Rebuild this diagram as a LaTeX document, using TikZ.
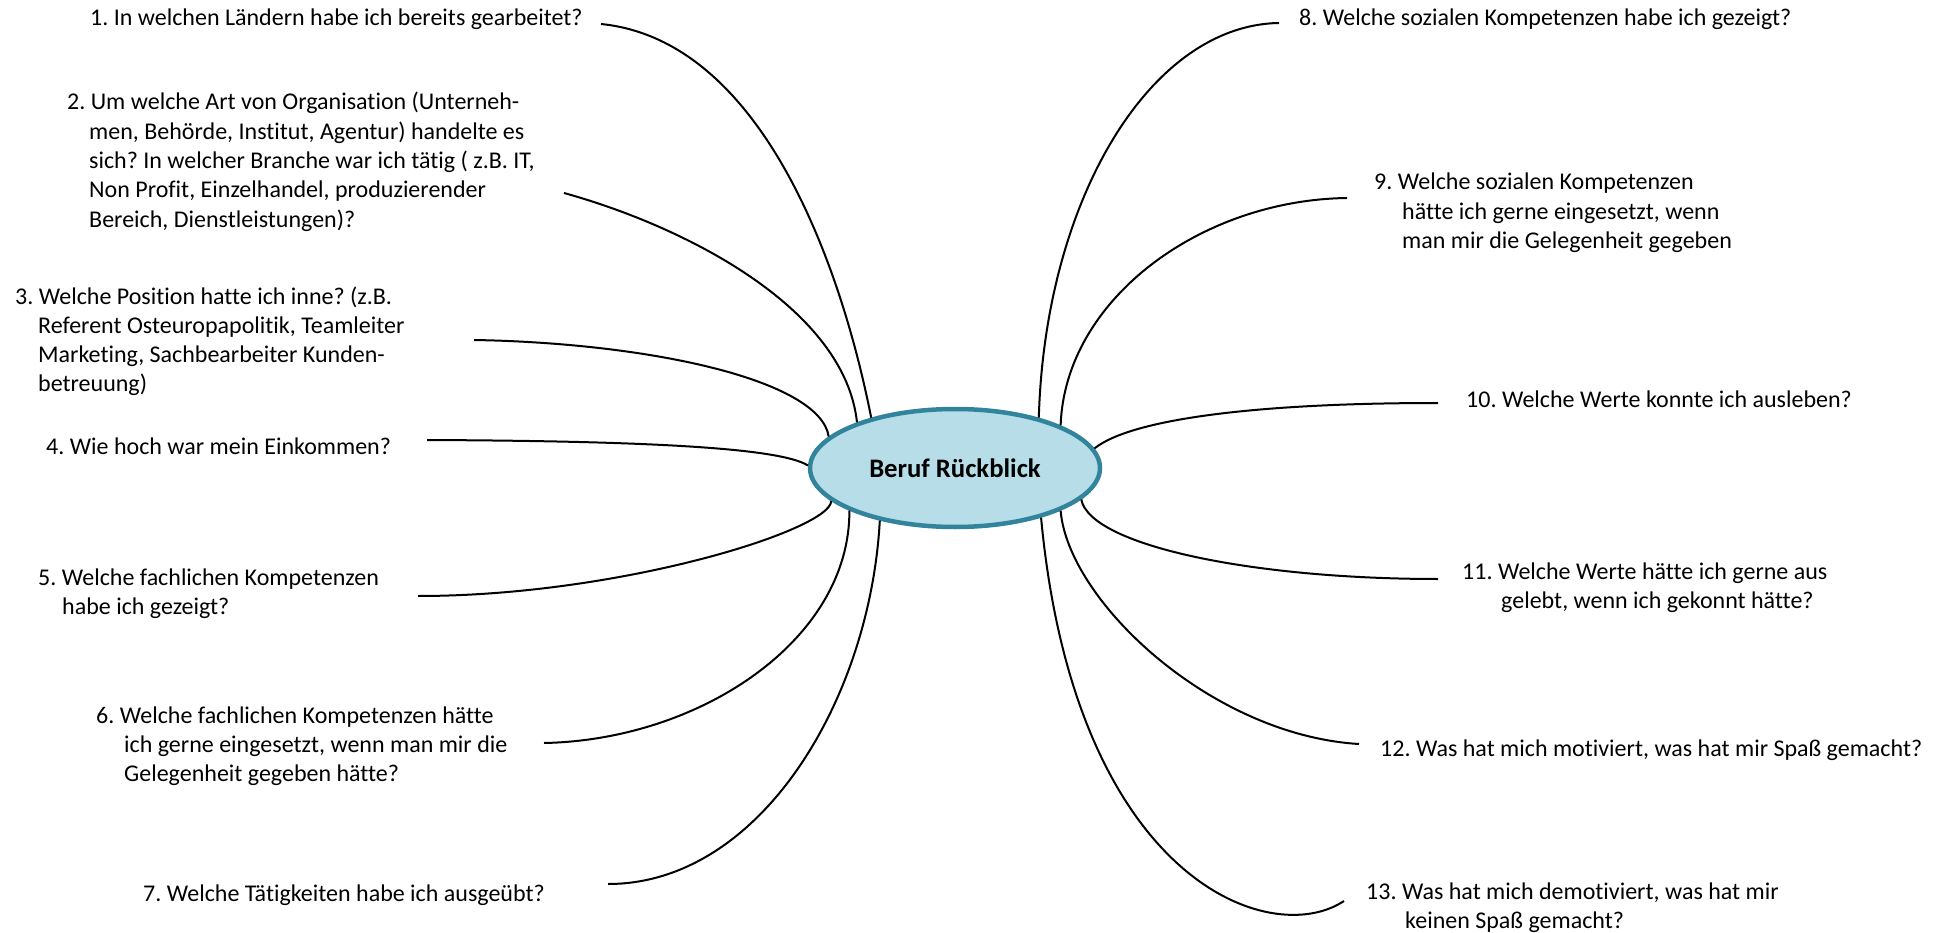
\documentclass[tikz,border=0pt]{standalone}
\usepackage{fontspec}
\setmainfont{Carlito}[Ligatures=CommonOff]
\usetikzlibrary{shapes.geometric}
\definecolor{ellfill}{HTML}{B7DDE8}
\definecolor{elldraw}{HTML}{31849B}
\frenchspacing
\begin{document}
\begin{tikzpicture}[x=1pt,y=-1pt,
  question/.style={anchor=base west, inner sep=0pt, align=left, font=\fontsize{24}{29.3}\selectfont},
  conn/.style={draw=black, line width=2pt},
  centre/.style={ellipse, fill=ellfill, draw=elldraw, line width=4.5pt, minimum width=290pt, minimum height=118pt, inner sep=0pt, font=\fontsize{26.7}{32}\selectfont\bfseries}]
\useasboundingbox (0,0) rectangle (1944,933);
\node[centre] (c) at (955,468) {Beruf Rückblick};

% multi-line nodes: base anchor = baseline of the last line
\node[question] (q1) at (90,26) {1. In welchen Ländern habe ich bereits gearbeitet?};
\node[question] (q2) at (67,227.2) {2. Um welche Art von Organisation (Unterneh-\\
\hspace*{22pt}men, Behörde, Institut, Agentur) handelte es\\
\hspace*{22pt}sich? In welcher Branche war ich tätig ( z.B. IT,\\
\hspace*{22pt}Non Profit, Einzelhandel, produzierender\\
\hspace*{22pt}Bereich, Dienstleistungen)?};
\node[question] (q3) at (15,391.9) {3. Welche Position hatte ich inne? (z.B.\\
\hspace*{23pt}Referent Osteuropapolitik, Teamleiter\\
\hspace*{23pt}Marketing, Sachbearbeiter Kunden-\\
\hspace*{23pt}betreuung)};
\node[question] (q4) at (46,454) {4. Wie hoch war mein Einkommen?};
\node[question] (q5) at (38,614.3) {5. Welche fachlichen Kompetenzen\\
\hspace*{24pt}habe ich gezeigt?};
\node[question] (q6) at (96,781.6) {6. Welche fachlichen Kompetenzen hätte\\
\hspace*{28pt}ich gerne eingesetzt, wenn man mir die\\
\hspace*{28pt}Gelegenheit gegeben hätte?};
\node[question] (q7) at (143,901) {7. Welche Tätigkeiten habe ich ausgeübt?};

\node[question] (q8) at (1299,26) {8. Welche sozialen Kompetenzen habe ich gezeigt?};
\node[question] (q9) at (1374,248.6) {9. Welche sozialen Kompetenzen\\
\hspace*{28pt}hätte ich gerne eingesetzt, wenn\\
\hspace*{28pt}man mir die Gelegenheit gegeben};
\node[question] (q10) at (1466,407) {10. Welche Werte konnte ich ausleben?};
\node[question] (q11) at (1462,608.3) {11. Welche Werte hätte ich gerne aus\\
\hspace*{39pt}gelebt, wenn ich gekonnt hätte?};
\node[question] (q12) at (1380,756) {12. Was hat mich motiviert, was hat mir Spaß gemacht?};
\node[question] (q13) at (1366,928.5) {13. Was hat mich demotiviert, was hat mir\\
\hspace*{39pt}keinen Spaß gemacht?};

\coordinate (e1) at (601,24);
\coordinate (e2) at (564,193);
\coordinate (e3) at (474,340);
\coordinate (e4) at (427,440);
\coordinate (e5) at (418,596);
\coordinate (e6) at (544,743);
\coordinate (e7) at (608,884);
\coordinate (e8) at (1279,23);
\coordinate (e9) at (1347,198);
\coordinate (e10) at (1438,403);
\coordinate (e11) at (1438,579);
\coordinate (e12) at (1359,744);
\coordinate (e13) at (1344,901);

\draw[conn] (e1) .. controls (760,40) and (840,260) .. (c.149.2);
\draw[conn] (e2) .. controls (690,228) and (845,310) .. (c.155.7);
\draw[conn] (e3) .. controls (650,343) and (820,380) .. (c.166);
\draw[conn] (e4) .. controls (650,441) and (780,448) .. (c.179);
\draw[conn] (e5) .. controls (620,596) and (830,530) .. (c.195);
\draw[conn] (e6) .. controls (700,740) and (850,640) .. (c.202);
\draw[conn] (e7) .. controls (760,884) and (870,700) .. (c.215);
\draw[conn] (e8) .. controls (1150,25) and (1045,200) .. (c.31);
\draw[conn] (e9) .. controls (1200,200) and (1065,300) .. (c.22);
\draw[conn] (e10) .. controls (1250,403) and (1130,420) .. (c.8);
\draw[conn] (e11) .. controls (1250,579) and (1090,545) .. (c.-14.5);
\draw[conn] (e12) .. controls (1210,735) and (1068,600) .. (c.-22);
\draw[conn] (e13) .. controls (1270,950) and (1075,880) .. (c.-30);
\end{tikzpicture}
\end{document}
